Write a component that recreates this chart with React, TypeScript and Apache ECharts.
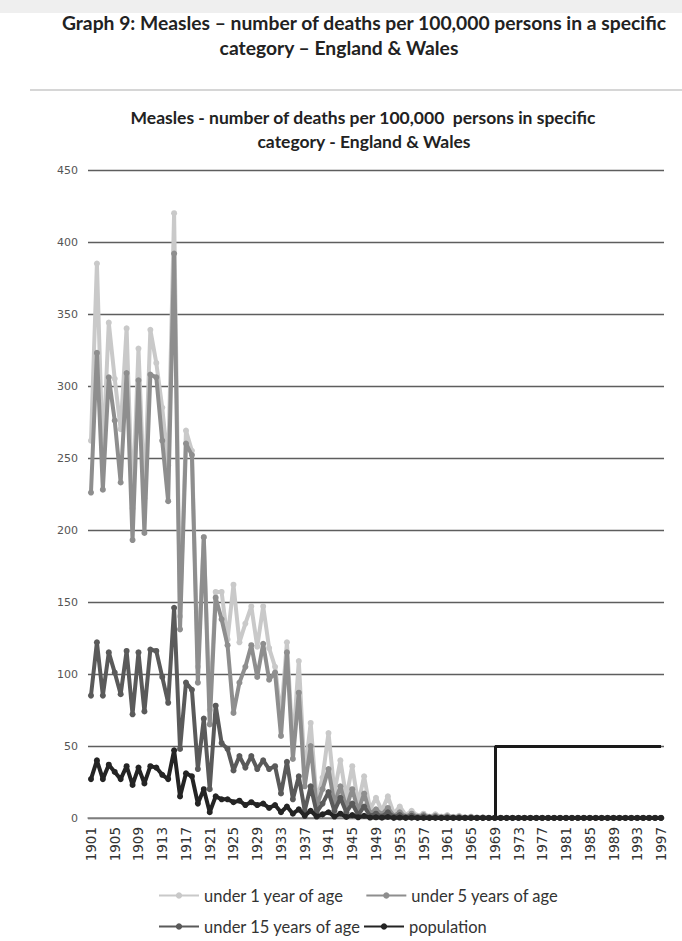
import React, { useEffect, useRef } from "react";
import * as echarts from "echarts";

const years: string[] = [];
for (let y = 1901; y <= 1997; y++) years.push(String(y));

const tail = (v: number, n: number) => new Array(n).fill(v);

const under1: number[] = [
  262, 385, 250, 344, 305, 270, 340, 215, 326, 222,
  339, 316, 285, 245, 420, 140, 269, 255, 105, 195,
  75, 157, 157, 124, 162, 122, 135, 147, 119, 147,
  118, 105, 70, 122, 50, 109, 30, 66, 12, 28,
  59, 18, 40, 14, 36, 10, 29, 6, 14, 5,
  15, 3, 8, 2, 5, 1.5, 3, 1, 2.5, 1,
  2, 0.8, 1.5, 0.5, 1, 0.4, 0.5, 0.2, 0.2, 0.2,
  ...tail(0.1, 27),
];

const under5: number[] = [
  226, 323, 228, 306, 276, 233, 309, 193, 304, 198,
  308, 306, 262, 220, 392, 131, 260, 252, 94, 195,
  65, 153, 138, 120, 73, 94, 105, 120, 98, 121,
  96, 101, 57, 115, 41, 87, 22, 50, 8, 20,
  34, 10, 22, 7, 20, 5, 17, 3, 6, 2.5,
  7, 1.5, 4, 1, 3, 0.8, 2, 0.6, 1.5, 0.5,
  1.2, 0.4, 0.8, 0.3, 0.6, 0.2, 0.3, 0.1, 0.1, 0.1,
  ...tail(0.1, 27),
];

const under15: number[] = [
  85, 122, 85, 115, 101, 86, 116, 72, 115, 74,
  117, 116, 98, 80, 146, 48, 94, 89, 34, 69,
  20, 78, 52, 48, 33, 43, 35, 43, 34, 40,
  34, 36, 17, 39, 13, 29, 5, 22, 4, 10,
  18, 5, 14, 4, 10, 2, 8, 1.5, 3, 1,
  4, 0.8, 2, 0.5, 1.5, 0.4, 1, 0.3, 0.6, 0.2,
  0.5, 0.2, 0.3, 0.1, 0.2, 0.1, 0.1, 0.05, 0.05, 0.05,
  ...tail(0.05, 27),
];

const population: number[] = [
  27, 40, 27, 37, 32, 27, 36, 23, 35, 24,
  36, 35, 30, 27, 47, 15, 31, 29, 10, 20,
  4, 15, 13, 13, 11, 12, 9, 11, 9, 10,
  7, 9, 4, 8, 3, 6, 1.5, 5, 1, 2.5,
  4, 1, 3, 0.7, 2, 0.5, 1.5, 0.3, 0.5, 0.2,
  0.7, 0.1, 0.3, 0.1, 0.2, 0.05, 0.05, 0.05, 0.05, 0.05,
  ...tail(0.05, 37),
];

const seriesNames = [
  "under 1 year of age",
  "under 5 years of age",
  "under 15 years of age",
  "population",
];
const seriesColors = ["#c9c9c9", "#8e8e8e", "#5a5a5a", "#242424"];

const vaccineStartYear = "1969";
const vaccineEndYear = "1997";
const vaccineLevel = 50;

const yTicks = { min: 0, max: 450, interval: 50 };

export default function App() {
  const ref = useRef<HTMLDivElement>(null);
  useEffect(() => {
    const chart = echarts.init(ref.current!, null, { renderer: "svg" });
    const font = "Lato, 'DejaVu Sans', sans-serif";
    const data = [under1, under5, under15, population];
    const series: any[] = seriesNames.map((name, i) => ({
      name,
      type: "line",
      data: data[i],
      symbol: "circle",
      symbolSize: 6,
      showSymbol: true,
      showAllSymbol: true,
      lineStyle: { color: seriesColors[i], width: 4 },
      itemStyle: { color: seriesColors[i] },
      z: 2 + i,
      emphasis: { disabled: true },
    }));
    series[3].markLine = {
      silent: true,
      symbol: ["none", "none"],
      label: { show: false },
      lineStyle: { color: "#1a1a1a", width: 3, type: "solid" },
      data: [
        [{ coord: [vaccineStartYear, 0] }, { coord: [vaccineStartYear, vaccineLevel] }],
        [{ coord: [vaccineStartYear, vaccineLevel] }, { coord: [vaccineEndYear, vaccineLevel] }],
      ],
    };
    const legendText = { fontSize: 16.5, color: "#333", fontFamily: font };
    chart.setOption({
      animation: false,
      backgroundColor: "#ffffff",
      textStyle: { fontFamily: font },
      graphic: [
        { type: "rect", left: 0, top: 0, shape: { width: 682, height: 13 }, style: { fill: "#efefef" } },
        { type: "line", shape: { x1: 30, y1: 90, x2: 682, y2: 90 }, style: { stroke: "#d6d6d6", lineWidth: 2 } },
        {
          type: "text", x: 364, y: 22,
          style: { text: "Graph 9: Measles – number of deaths per 100,000 persons in a specific", fontSize: 19.3, fontWeight: "bold", fontFamily: font, fill: "#222", textAlign: "center", textVerticalAlign: "middle" },
        },
        {
          type: "text", x: 339, y: 47,
          style: { text: "category – England & Wales", fontSize: 19.3, fontWeight: "bold", fontFamily: font, fill: "#222", textAlign: "center", textVerticalAlign: "middle" },
        },
        {
          type: "text", x: 363, y: 117,
          style: { text: "Measles - number of deaths per 100,000  persons in specific", fontSize: 17.5, fontWeight: "bold", fontFamily: font, fill: "#222", textAlign: "center", textVerticalAlign: "middle" },
        },
        {
          type: "text", x: 364, y: 141,
          style: { text: "category - England & Wales", fontSize: 17.5, fontWeight: "bold", fontFamily: font, fill: "#222", textAlign: "center", textVerticalAlign: "middle" },
        },
      ],
      grid: { left: 88, right: 18, top: 170, bottom: 123, containLabel: false },
      legend: [
        {
          data: seriesNames.slice(0, 2), left: 158, top: 887, padding: 0, itemWidth: 40, itemHeight: 8, itemGap: 21,
          textStyle: legendText, selectedMode: false,
        },
        {
          data: seriesNames.slice(2, 4), left: 158, top: 918, padding: 0, itemWidth: 40, itemHeight: 8, itemGap: 2,
          textStyle: legendText, selectedMode: false,
        },
      ],
      xAxis: {
        type: "category",
        data: years,
        boundaryGap: true,
        axisLine: { lineStyle: { color: "#888", width: 1.5 } },
        axisTick: { show: false },
        axisLabel: { interval: 3, rotate: 90, fontSize: 13.5, color: "#333", fontFamily: "'DejaVu Sans', sans-serif", margin: 9 },
      },
      yAxis: {
        type: "value",
        min: yTicks.min,
        max: yTicks.max,
        interval: yTicks.interval,
        axisLine: { show: false },
        axisTick: { show: false },
        splitLine: { lineStyle: { color: "#5e5e5e", width: 1.3 } },
        axisLabel: { fontSize: 11, color: "#555", fontFamily: "'DejaVu Sans', sans-serif", margin: 10 },
      },
      series,
    });
    return () => chart.dispose();
  }, []);
  return (
    <div
      ref={ref}
      style={{ position: "absolute", left: 0, top: 0, width: 682, height: 941, background: "#fff" }}
    />
  );
}
